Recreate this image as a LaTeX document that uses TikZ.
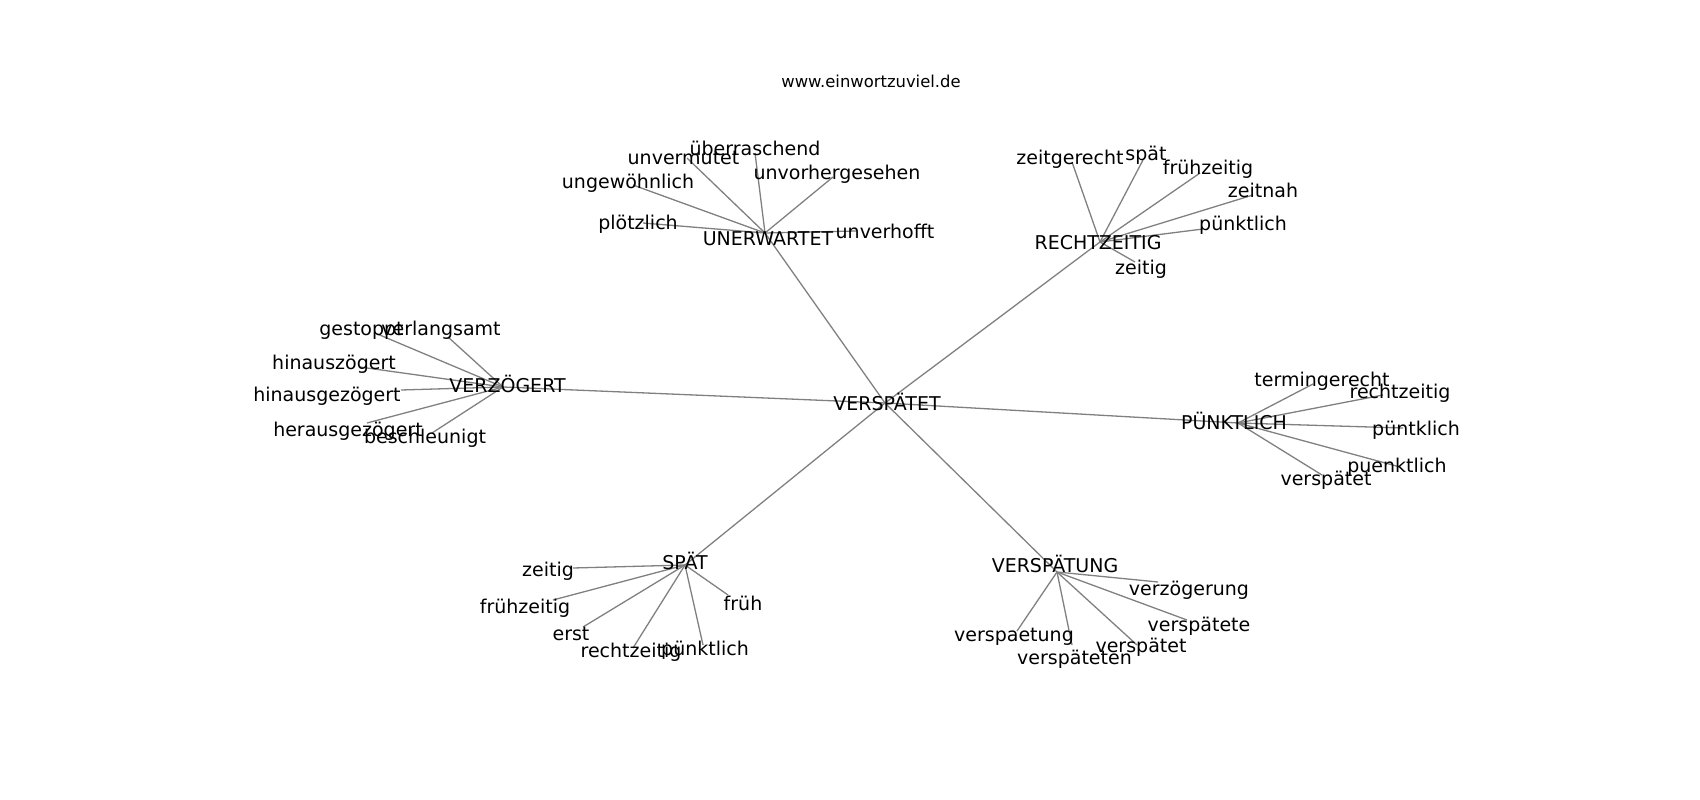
\documentclass[tikz,border=0pt]{standalone}
\usepackage{fontspec}
\setmainfont{DejaVu Sans}
\begin{document}
\begin{tikzpicture}[x=1pt,y=-1pt,
  lbl/.style={font=\fontsize{19}{19}\selectfont, inner sep=0pt, text height=0.76em, text depth=0.24em, anchor=center, yshift=-5pt},
  ttl/.style={font=\fontsize{16.4}{16.4}\selectfont, inner sep=0pt, text height=0.76em, text depth=0.24em, anchor=center, yshift=-4pt},
  edge/.style={draw=gray, line width=1.3pt}]
\useasboundingbox (0,0) rectangle (1700,800);
% ---------- hub / end points ----------
\coordinate (cV) at (885,403);
\coordinate (hU) at (765,233);
\coordinate (hR) at (1100,242);
\coordinate (hZ) at (503,387);
\coordinate (hP) at (1238,423);
\coordinate (hS) at (685,565);
\coordinate (hT) at (1057,572);
% UNERWARTET leaves
\coordinate (pU1) at (643,223);
\coordinate (pU2) at (633,185);
\coordinate (pU3) at (687,158);
\coordinate (pU4) at (755,153);
\coordinate (pU5) at (833,177);
\coordinate (pU6) at (856,231);
% RECHTZEITIG leaves
\coordinate (pR1) at (1072,162);
\coordinate (pR2) at (1143,160);
\coordinate (pR3) at (1200,173);
\coordinate (pR4) at (1253,195);
\coordinate (pR5) at (1203,229);
\coordinate (pR6) at (1135,262);
% VERZOEGERT leaves
\coordinate (pZ1) at (375,333);
\coordinate (pZ2) at (448,337);
\coordinate (pZ3) at (360,367);
\coordinate (pZ4) at (401,390);
\coordinate (pZ5) at (367,423);
\coordinate (pZ6) at (432,433);
% PUENKTLICH leaves
\coordinate (pP1) at (1313,384);
\coordinate (pP2) at (1383,395);
\coordinate (pP3) at (1403,428);
\coordinate (pP4) at (1400,467);
\coordinate (pP5) at (1322,475);
% SPAET leaves
\coordinate (pS1) at (573,568);
\coordinate (pS2) at (553,600);
\coordinate (pS3) at (728,595);
\coordinate (pS4) at (583,627);
\coordinate (pS5) at (633,648);
\coordinate (pS6) at (703,645);
% VERSPAETUNG leaves
\coordinate (pT1) at (1158,582);
\coordinate (pT2) at (1187,620);
\coordinate (pT3) at (1017,631);
\coordinate (pT4) at (1072,645);
\coordinate (pT5) at (1137,645);
% ---------- edges ----------
\foreach \h in {hU,hR,hZ,hP,hS,hT} \draw[edge] (cV) -- (\h);
\foreach \p in {pU1,pU2,pU3,pU4,pU5,pU6} \draw[edge] (hU) -- (\p);
\foreach \p in {pR1,pR2,pR3,pR4,pR5,pR6} \draw[edge] (hR) -- (\p);
\foreach \p in {pZ1,pZ2,pZ3,pZ4,pZ5,pZ6} \draw[edge] (hZ) -- (\p);
\foreach \p in {pP1,pP2,pP3,pP4,pP5} \draw[edge] (hP) -- (\p);
\foreach \p in {pS1,pS2,pS3,pS4,pS5,pS6} \draw[edge] (hS) -- (\p);
\foreach \p in {pT1,pT2,pT3,pT4,pT5} \draw[edge] (hT) -- (\p);
% ---------- labels ----------
\node[ttl] (title) at (871,81) {www.einwortzuviel.de};
\node[lbl] (lV) at (887,403) {VERSPÄTET};
% UNERWARTET
\node[lbl] (lU) at (768,238) {UNERWARTET};
\node[lbl] (lU1) at (638,222) {plötzlich};
\node[lbl] (lU2) at (628,181) {ungewöhnlich};
\node[lbl] (lU3) at (683.5,157) {unvermutet};
\node[lbl] (lU4) at (755,148) {überraschend};
\node[lbl] (lU5) at (837,172) {unvorhergesehen};
\node[lbl] (lU6) at (885,231) {unverhofft};
% RECHTZEITIG
\node[lbl] (lR) at (1098,242) {RECHTZEITIG};
\node[lbl] (lR1) at (1070,157) {zeitgerecht};
\node[lbl] (lR2) at (1146,153) {spät};
\node[lbl] (lR3) at (1208,167) {frühzeitig};
\node[lbl] (lR4) at (1263,190) {zeitnah};
\node[lbl] (lR5) at (1243,223) {pünktlich};
\node[lbl] (lR6) at (1141,267) {zeitig};
% VERZOEGERT
\node[lbl] (lZ) at (507.5,385) {VERZÖGERT};
\node[lbl] (lZ1) at (361.5,328) {gestoppt};
\node[lbl] (lZ2) at (441,328) {verlangsamt};
\node[lbl] (lZ3) at (334,362) {hinauszögert};
\node[lbl] (lZ4) at (327,394) {hinausgezögert};
\node[lbl] (lZ5) at (348,429) {herausgezögert};
\node[lbl] (lZ6) at (425,436) {beschleunigt};
% PUENKTLICH
\node[lbl] (lP) at (1234,422) {PÜNKTLICH};
\node[lbl] (lP1) at (1322,379) {termingerecht};
\node[lbl] (lP2) at (1400,391) {rechtzeitig};
\node[lbl] (lP3) at (1416,428) {püntklich};
\node[lbl] (lP4) at (1397,465) {puenktlich};
\node[lbl] (lP5) at (1326,478) {verspätet};
% SPAET
\node[lbl] (lS) at (685,562) {SPÄT};
\node[lbl] (lS1) at (548,569) {zeitig};
\node[lbl] (lS2) at (525,606) {frühzeitig};
\node[lbl] (lS3) at (743,603) {früh};
\node[lbl] (lS4) at (571,633) {erst};
\node[lbl] (lS5) at (631,650) {rechtzeitig};
\node[lbl] (lS6) at (705,648) {pünktlich};
% VERSPAETUNG
\node[lbl] (lT) at (1055,565) {VERSPÄTUNG};
\node[lbl] (lT1) at (1189,588) {verzögerung};
\node[lbl] (lT2) at (1199,624) {verspätete};
\node[lbl] (lT3) at (1014,634) {verspaetung};
\node[lbl] (lT4) at (1074.5,657) {verspäteten};
\node[lbl] (lT5) at (1141,645) {verspätet};
\end{tikzpicture}
\end{document}
